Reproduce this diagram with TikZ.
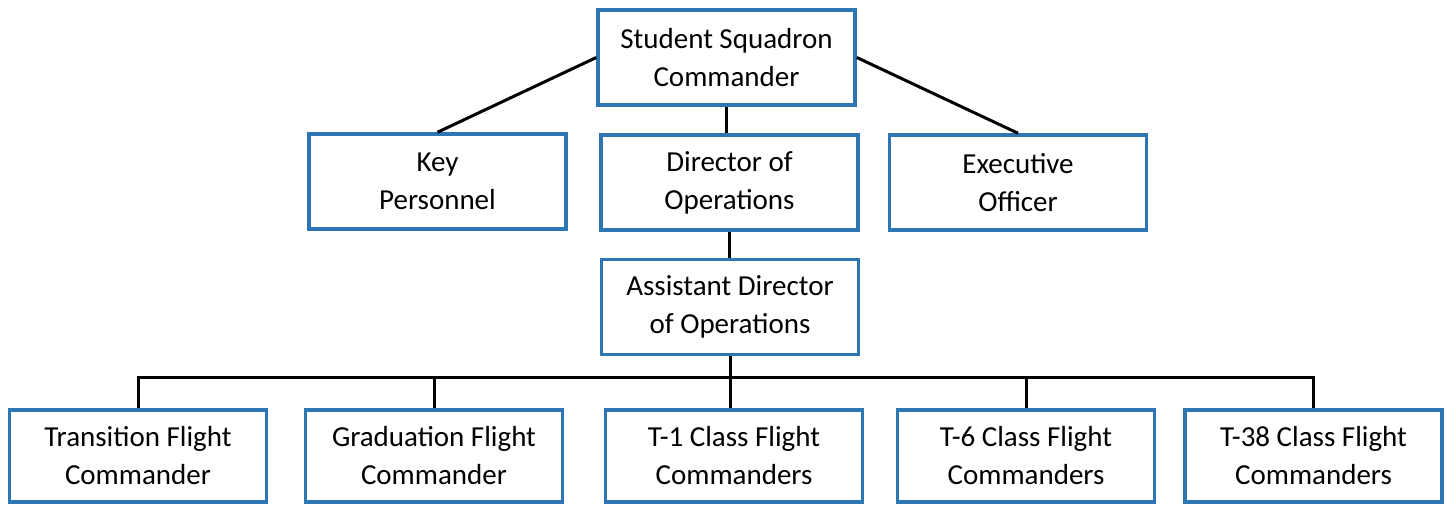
\documentclass[tikz,border=0pt]{standalone}
\usepackage{fontspec}
\setmainfont{Carlito}
\usepackage{tikz}
\usetikzlibrary{positioning, calc}
\definecolor{boxblue}{RGB}{46,117,182}

\begin{document}
\begin{tikzpicture}[x=1pt, y=-1pt,
    post/.style={draw=boxblue, line width=3.5pt, fill=white, align=center,
        minimum width=257pt, minimum height=95pt, inner sep=0pt,
        font=\fontsize{29}{38}\selectfont},
    flight/.style={post, minimum height=92pt},
    link/.style={line width=3pt, black}]
    \useasboundingbox (0,0) rectangle (1450,504);

    % Commandant
    \node[post] (ssc) at (726.5,57.5) {Student Squadron\\Commander};

    % Niveau 2
    \node[post] (key) at (437.5,181.5) {Key\\Personnel};
    \node[post] (dir) at (729.5,182.5) {Director of\\Operations};
    \node[post] (exec) at (1018,182.5) {Executive\\Officer};

    % Adjoint
    \node[post] (ado) at (730,307) {Assistant Director\\of Operations};

    % Chefs de vol
    \node[flight] (trans) at (138,456) {Transition Flight\\Commander};
    \node[flight] (grad) at (434,456) {Graduation Flight\\Commander};
    \node[flight] (tone) at (734,456) {T-1 Class Flight\\Commanders};
    \node[flight] (tsix) at (1026,456) {T-6 Class Flight\\Commanders};
    \node[flight] (tthirty) at (1313.5,456) {T-38 Class Flight\\Commanders};

    % Liaisons du haut
    \draw[link] (ssc.west) -- (key.north);
    \draw[link] (ssc.east) -- (exec.north);
    \draw[link] (ssc.south) -- (ssc.south |- dir.north);
    \draw[link] (dir.south) -- (dir.south |- ado.north);

    % Barre horizontale
    \coordinate (bus) at (730,377);
    \draw[link] (ado.south) -- (ado.south |- tone.north);
    \draw[link] (trans.north) |- (bus) -| (tthirty.north);
    \draw[link] (grad.north) -- (grad.north |- bus);
    \draw[link] (tsix.north) -- (tsix.north |- bus);
\end{tikzpicture}
\end{document}
